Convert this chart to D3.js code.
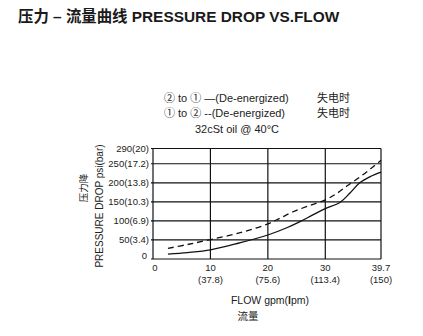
<!DOCTYPE html>
<html><head><meta charset="utf-8">
<script src="https://cdn.jsdelivr.net/npm/d3@7"></script>
<style>
html,body{margin:0;padding:0;background:#fff;}
svg{display:block;}
text{font-family:"Liberation Sans",Arial,"Noto Sans CJK SC",sans-serif;fill:#222;}
.cjk{font-family:"Noto Sans CJK SC","Liberation Sans",sans-serif;}
</style></head>
<body>
<svg id="c" width="423" height="336"></svg>
<script>
// Data
const xTicks = [0, 10, 20, 30, 39.7];
const xTickLabels = ["0", "10", "20", "30", "39.7"];
const xTickSub = ["", "(37.8)", "(75.6)", "(113.4)", "(150)"];
const yTicks = [0, 50, 100, 150, 200, 250, 290];
const yTickLabels = ["0", "50(3.4)", "100(6.9)", "150(10.3)", "200(13.8)", "250(17.2)", "290(20)"];
const flowSolid = [2.6, 6, 10, 15, 20, 23.3, 25.6, 28, 30, 32.6, 34.3, 36, 37.8, 39.7];
const psiSolid  = [13, 17, 24, 42, 63, 82, 98, 117, 132, 149, 173, 200, 216, 228];
const flowDashed = [2.6, 6, 10, 15.2, 20, 22.1, 24.4, 27, 30, 32, 33.8, 36, 38, 39.7];
const psiDashed  = [28, 38, 51, 69, 92, 107, 124, 139, 155, 172, 192, 215, 238, 259];

const svg = d3.select("#c");
const x = d3.scaleLinear().domain([0, 39.7]).range([153, 381]);
const y = d3.scaleLinear().domain([0, 290]).range([259, 148.5]);

// Title
svg.append("text").attr("x", 18).attr("y", 22)
  .style("font-size", "15.4px").style("font-weight", "bold").style("fill", "#1a1a1a")
  .text("压力 – 流量曲线 PRESSURE DROP VS.FLOW");

// Legend
const lg = svg.append("g").style("font-size", "11px");
lg.append("text").attr("x", 164).attr("y", 102).text("② to ① —(De-energized)");
lg.append("text").attr("x", 164).attr("y", 117).text("① to ② --(De-energized)");
lg.append("text").attr("x", 195).attr("y", 133).text("32cSt oil @ 40°C");
lg.append("text").attr("class", "cjk").attr("x", 317).attr("y", 102).text("失电时");
lg.append("text").attr("class", "cjk").attr("x", 317).attr("y", 117).text("失电时");

// Grid
const g = svg.append("g");
g.selectAll("line.h").data(yTicks).join("line")
  .attr("x1", x(0) - 2).attr("x2", x(39.7))
  .attr("y1", d => y(d)).attr("y2", d => y(d))
  .attr("stroke", "#111").attr("stroke-width", 1.2);
g.selectAll("line.v").data(xTicks).join("line")
  .attr("x1", d => x(d)).attr("x2", d => x(d))
  .attr("y1", y(0)).attr("y2", y(290))
  .attr("stroke", "#111").attr("stroke-width", 1.2);

// Y tick labels
g.selectAll("text.yl").data(yTicks).join("text")
  .attr("x", d => d === 0 ? 147 : 149)
  .attr("y", d => y(d) + (d === 0 ? 0 : 3.5))
  .attr("text-anchor", "end").style("font-size", "9.5px")
  .text((d, i) => yTickLabels[i]);

// X tick labels
g.selectAll("text.xl").data(xTicks).join("text")
  .attr("x", d => x(d) + (d === 0 ? 2 : 0)).attr("y", 271)
  .attr("text-anchor", "middle").style("font-size", "9.5px")
  .text((d, i) => xTickLabels[i]);
g.selectAll("text.xs").data(xTicks).join("text")
  .attr("x", d => x(d)).attr("y", 283)
  .attr("text-anchor", "middle").style("font-size", "9.5px")
  .text((d, i) => xTickSub[i]);

// Axis titles
const xt = svg.append("text").attr("x", 270).attr("y", 304).attr("text-anchor", "middle").style("font-size", "10.5px");
xt.append("tspan").text("FLOW gpm(");
xt.append("tspan").style("font-weight", "bold").text("l");
xt.append("tspan").text("pm)");
svg.append("text").attr("class", "cjk").attr("x", 248).attr("y", 320).attr("text-anchor", "middle")
  .style("font-size", "10.5px").text("流量");

svg.append("text").attr("transform", "translate(103,206) rotate(-90)").attr("text-anchor", "middle")
  .style("font-size", "10px").text("PRESSURE DROP psi(bar)");
svg.append("text").attr("class", "cjk").attr("transform", "translate(87,188) rotate(-90)").attr("text-anchor", "middle")
  .style("font-size", "9.5px").text("压力降");

// Curves
const line = d3.line().x(d => x(d[0])).y(d => y(d[1])).curve(d3.curveCatmullRom.alpha(0.5));
svg.append("path").datum(flowSolid.map((f, i) => [f, psiSolid[i]]))
  .attr("d", line).attr("fill", "none").attr("stroke", "#111").attr("stroke-width", 1.3);
svg.append("path").datum(flowDashed.map((f, i) => [f, psiDashed[i]]))
  .attr("d", line).attr("fill", "none").attr("stroke", "#111").attr("stroke-width", 1.3)
  .attr("stroke-dasharray", "6,4");
</script>
</body></html>
